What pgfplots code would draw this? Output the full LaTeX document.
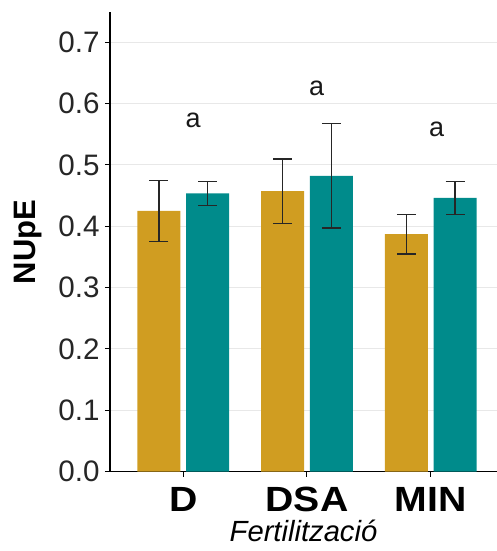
\documentclass[border=0pt]{standalone}
\usepackage{pgfplots}
\pgfplotsset{compat=1.18}
\usepackage{fontspec}
\setmainfont{Liberation Sans}
\newfontfamily\catfont{Liberation Sans}[FakeStretch=1.12]
\definecolor{gold}{RGB}{208,157,33}
\definecolor{tealc}{RGB}{0,139,139}
\definecolor{gridc}{RGB}{232,232,232}
\pgfplotstableread{
x y e
1 0.425 0.050
2 0.457 0.0525
3 0.387 0.0325
}\gold
\pgfplotstableread{
x y e
1 0.4535 0.0198
2 0.482 0.0848
3 0.446 0.0273
}\tealt
\begin{document}
\begin{tikzpicture}
\useasboundingbox (-55pt,-39.65pt) rectangle (193.5pt,235.85pt);
\begin{axis}[
  at={(0,0)}, anchor=south west,
  scale only axis, width=193.5pt, height=229.85pt,
  xmin=0.408, xmax=3.536, ymin=0, ymax=0.749,
  axis x line*=bottom, axis y line*=left,
  axis line style={line width=0.8pt, black, -},
  ybar,
  xtick={1,2,3}, xticklabels={D,DSA,MIN},
  ytick={0,0.1,0.2,0.3,0.4,0.5,0.6,0.7},
  yticklabels={0.0,0.1,0.2,0.3,0.4,0.5,0.6,0.7},
  tick align=outside, major tick length=2.5pt,
  tick style={black, line width=0.5pt},
  ymajorgrids, grid style={gridc, line width=0.5pt},
  yticklabel style={font=\fontsize{14.8}{16}\selectfont, text=black!85, inner sep=2.5pt},
  xticklabel style={font=\catfont\bfseries\fontsize{17.5}{19}\selectfont, text=black, inner sep=0.5pt, yshift=-4.5pt},
  xlabel={\itshape Fertilització},
  xlabel style={at={(axis description cs:0.5,-0.129)}, anchor=center, inner sep=0.5pt, font=\fontsize{14.6}{16}\selectfont},
  ylabel={\bfseries NUpE},
  ylabel style={at={(axis description cs:-0.212,0.5)}, anchor=center, font=\fontsize{15.5}{17}\selectfont},
  clip=false,
]
\addplot[bar width=0.348, bar shift=-0.197, fill=gold, draw=none,
  error bars/.cd, y dir=both, y explicit,
  error bar style={line width=0.65pt, black!85},
  error mark options={rotate=90, line width=0.65pt, black!85, mark size=4.75pt}]
  table[x=x, y=y, y error=e]{\gold};
\addplot[bar width=0.348, bar shift=0.197, fill=tealc, draw=none,
  error bars/.cd, y dir=both, y explicit,
  error bar style={line width=0.65pt, black!85},
  error mark options={rotate=90, line width=0.65pt, black!85, mark size=4.75pt}]
  table[x=x, y=y, y error=e]{\tealt};
\node[font=\fontsize{13.5}{15}\selectfont, text=black!90] at (axis cs:1.079,0.573) {a};
\node[font=\fontsize{13.5}{15}\selectfont, text=black!90] at (axis cs:2.079,0.625) {a};
\node[font=\fontsize{13.5}{15}\selectfont, text=black!90] at (axis cs:3.049,0.557) {a};
\end{axis}
\end{tikzpicture}
\end{document}
